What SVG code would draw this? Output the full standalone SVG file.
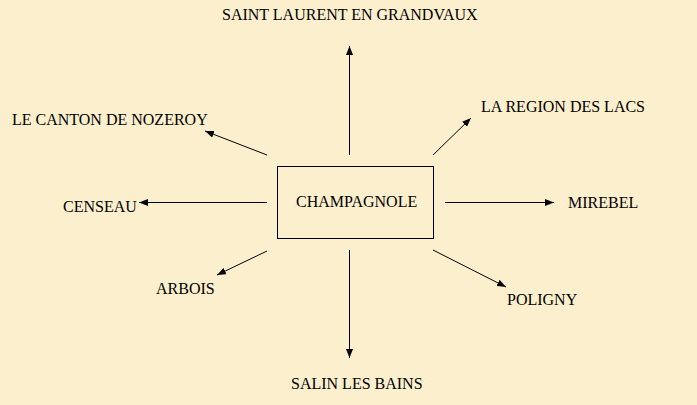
<svg xmlns="http://www.w3.org/2000/svg" width="697" height="405" viewBox="0 0 697 405">
<style>
text{font-family:"Liberation Serif","Times New Roman",serif;font-size:16px;fill:#000}
.c line{stroke:#000;stroke-width:1;marker-end:url(#ah)}
</style>
<defs>
<marker id="ah" markerWidth="9" markerHeight="7" refX="9" refY="3.5" orient="auto" markerUnits="userSpaceOnUse">
<path d="M0,0 L9,3.5 L0,7 Z" fill="#000"/>
</marker>
</defs>
<rect width="697" height="405" fill="#FCEFCD"/>
<g id="champagnole">
<rect x="277.5" y="166.5" width="156" height="72" fill="none" stroke="#000" stroke-width="1"/>
<text x="296" y="207">CHAMPAGNOLE</text>
</g>
<g id="saint-laurent"><text x="222" y="20">SAINT LAURENT EN GRANDVAUX</text></g>
<g id="nozeroy"><text x="12" y="125">LE CANTON DE NOZEROY</text></g>
<g id="censeau"><text x="63" y="212">CENSEAU</text></g>
<g id="lacs"><text x="481" y="112">LA REGION DES LACS</text></g>
<g id="mirebel"><text x="568" y="208">MIREBEL</text></g>
<g id="arbois"><text x="156" y="294">ARBOIS</text></g>
<g id="poligny"><text x="507" y="305">POLIGNY</text></g>
<g id="salin"><text x="291" y="389">SALIN LES BAINS</text></g>
<g class="c" id="connectors">
<line x1="349.5" y1="155" x2="349.5" y2="46"/>
<line x1="349.5" y1="250" x2="349.5" y2="358"/>
<line x1="267" y1="202.5" x2="139" y2="202.5"/>
<line x1="445" y1="202.5" x2="554" y2="202.5"/>
<line x1="267" y1="155" x2="205" y2="131"/>
<line x1="433" y1="155" x2="471" y2="118"/>
<line x1="267" y1="251" x2="217" y2="275"/>
<line x1="433" y1="250" x2="506" y2="287"/>
</g>
</svg>
